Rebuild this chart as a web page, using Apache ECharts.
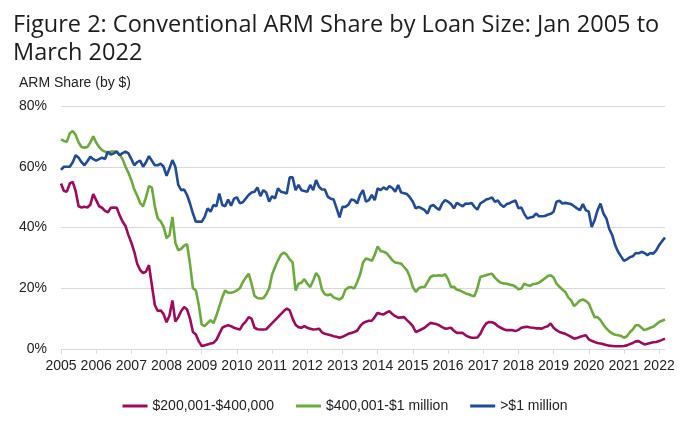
<!DOCTYPE html>
<html>
<head>
<meta charset="utf-8">
<script src="https://cdn.jsdelivr.net/npm/echarts@6/dist/echarts.min.js"></script>
<style>
  html, body { margin: 0; padding: 0; background: #fff; }
  #chart { width: 690px; height: 437px; }
</style>
</head>
<body>
<div id="chart"></div>
<script>
// monthly, Jan 2005 .. Mar 2022 (ARM share by $, %)
var years = ['2005','2006','2007','2008','2009','2010','2011','2012','2013','2014','2015','2016','2017','2018','2019','2020','2021','2022'];
var yTicks = ['0%', '20%', '40%', '60%', '80%'];

var share200to400k = [
  54.5, 52, 51.8, 54.5, 55, 52, 47, 46.6, 46.8, 46.6, 47.5, 51,
  49, 47, 46.5, 45.5, 45, 46.5, 46.6, 46.5, 44, 42, 40.5, 37.5,
  35, 32, 28, 26, 25, 25.5, 27.6, 21, 14.5, 12.5, 12.7, 11.5,
  8.8, 11, 16, 9, 10.5, 12.5, 13.8, 13, 10, 5.6, 4.8, 2.5,
  1, 1.2, 1.5, 1.8, 2, 3, 5, 7, 7.5, 7.8, 7.5, 7,
  6.7, 6.4, 8, 9, 10.5, 10, 7, 6.5, 6.4, 6.4, 6.5, 7.5,
  8.5, 9.5, 10.5, 11.5, 12.5, 13.3, 12.7, 10, 8, 7.2, 7, 7.5,
  7, 6.7, 6.4, 6.5, 6.7, 5.5, 5, 4.8, 4.5, 4.2, 4, 3.7,
  4, 4.5, 5, 5.3, 5.6, 6, 7.5, 8.5, 9, 9.3, 9.3, 10.5,
  11.9, 11.5, 11.4, 12, 12.5, 11.5, 10.8, 10.3, 10.4, 10.5, 9.5, 8.6,
  7.5, 5.6, 6, 6.5, 7, 7.8, 8.6, 8.4, 8.2, 7.8, 7.2, 6.7,
  6.8, 7, 6, 5.3, 5.3, 5.3, 4.5, 4, 3.7, 3.7, 3.8, 5,
  7, 8.4, 8.9, 8.8, 8.4, 7.5, 7, 6.5, 6.2, 6.2, 6.2, 5.9,
  6.3, 7, 7.2, 7.3, 7.1, 7, 6.8, 6.8, 6.7, 7.2, 7.5, 8.4,
  7, 6.2, 5.6, 5.3, 5, 4.5, 4, 3.4, 3.6, 4, 4.3, 4.5,
  3.2, 2.7, 2.3, 2, 1.8, 1.6, 1.3, 1.1, 1, 0.9, 0.9, 0.9,
  1, 1.2, 1.6, 2, 2.5, 2.6, 2, 1.5, 1.7, 2, 2.2, 2.3,
  2.6, 3, 3.4
];

var share400kto1m = [
  69, 68.5, 68.2, 71, 71.8, 70.5, 68, 66.5, 66.3, 66.5, 68, 70,
  68, 66.5, 65.5, 65, 64.4, 65, 65, 65, 64, 62.5, 60, 58,
  55.6, 52.5, 50.5, 48, 47, 50, 53.6, 53.2, 47, 43, 42, 40.2,
  36.5, 37.5, 43.5, 35, 32.5, 33, 34, 34.5, 28, 20, 19.3, 14.5,
  8, 7.5, 8.5, 9.5, 8.5, 11, 14, 17, 19.3, 18.5, 18.5, 18.8,
  19.3, 20, 22, 23.5, 24.8, 21.5, 17.5, 16.8, 16.6, 16.7, 18, 20,
  24.5, 27, 29.2, 31, 31.8, 31, 29.5, 28.5, 19.3, 21.5, 21.8, 23,
  21.5, 20.4, 22.5, 25, 23.7, 19.5, 18, 17.7, 18, 17, 16.6, 16.3,
  17, 19.5, 20.2, 20.4, 19.9, 22, 24.5, 28.5, 29.8, 29.5, 29, 31,
  33.8, 32.3, 32, 31.6, 30.5, 29.2, 28.5, 28.3, 28.1, 27, 25.9, 23.7,
  20.4, 18.8, 20, 20.4, 20.4, 22, 23.7, 24.2, 24.1, 24.3, 24.1, 24.6,
  23, 20.4, 20.5, 19.5, 19.3, 18.8, 18.3, 18, 17.6, 17.4, 20, 23.7,
  24, 24.3, 24.6, 24.8, 23.5, 22.5, 21.8, 21.6, 21.5, 21.2, 21, 20.5,
  19.7, 19.9, 21.5, 21, 20.8, 21.4, 21.5, 21.8, 22.5, 23.2, 24, 24.3,
  23.5, 21.5, 20.5, 19.6, 18.8, 17, 16, 14.1, 15, 16, 16.3, 15.8,
  15, 12.7, 10.5, 10.5, 9.5, 8, 6.8, 5.8, 5.1, 4.7, 4.5, 4.3,
  3.7, 4.2, 5.5, 6.4, 7.8, 7.8, 7, 6.2, 6.6, 7, 7.3, 8.1,
  8.9, 9.3, 9.7
];

var shareOver1m = [
  59, 60, 60, 60, 61.5, 63.8, 63, 61.5, 60.5, 61.8, 63.3, 62.5,
  62, 62.5, 63, 62.5, 65, 64, 64.4, 65, 63.8, 64.5, 65, 64.4,
  62.5, 60.5, 61.5, 62, 60, 61.5, 63.5, 62, 60.5, 60.5, 61, 60,
  57, 59.5, 62.2, 60, 54, 52.3, 52.5, 50.7, 47.9, 44.6, 41.9, 42,
  41.9, 43.5, 46.3, 45.2, 47.4, 47, 51.2, 47.4, 47, 49.2, 47.2, 49.5,
  49.9, 48, 48.3, 49.5, 50.7, 51.5, 51.8, 53.2, 50.3, 52.3, 51.5, 48.5,
  50.3, 49.6, 52.9, 51.8, 51.5, 51.2, 56.5, 56.5, 52.3, 54, 52.3, 52,
  51.8, 54, 52.3, 55.6, 53.4, 52.5, 52.5, 50.1, 49.5, 49.2, 46.3, 43.3,
  46.8, 46.8, 47.5, 49.2, 49, 47.9, 50.7, 52.3, 48.5, 49, 50.7, 49,
  52.9, 52.3, 53.2, 52.5, 53.6, 53, 51.8, 54, 51.5, 51.3, 51, 49.9,
  48.5, 46.3, 46.8, 46.3, 45.7, 44.6, 47, 47.4, 46.5, 45.8, 47.9, 49,
  48.5, 47.7, 46.3, 48.1, 47.5, 47, 47.9, 47.8, 48.1, 46.8, 45.9, 47.9,
  48.5, 49.2, 49.5, 49.9, 48.5, 48.9, 47.5, 46.8, 47.7, 48, 48.5, 48.9,
  46.3, 46.6, 44.5, 43, 43.3, 43.5, 44.6, 43.7, 43.7, 43.8, 44.2, 44.5,
  45.2, 48.5, 48.8, 47.9, 48.1, 47.9, 47.7, 47, 46.3, 45.7, 47.7, 45.7,
  45.2, 40.2, 42.4, 45.7, 47.9, 44.6, 43, 39.5, 37.5, 34.2, 32, 30.5,
  29, 29.5, 30.2, 30.5, 31.6, 31.5, 32, 31.6, 30.9, 31.6, 31.4, 32.5,
  34.2, 35.5, 36.7
];

var months = [];
for (var i = 0; i < share200to400k.length; i++) {
  months.push(years[Math.floor(i / 12)] + '-' + (i % 12 + 1));
}

var labelFont = "'Liberation Sans Narrow', 'Liberation Sans', sans-serif";
var chart = echarts.init(document.getElementById('chart'));

var option = {
  animation: false,
  backgroundColor: '#fff',
  title: [
    {
      text: 'Figure 2: Conventional ARM Share by Loan Size: Jan 2005 to\nMarch 2022',
      left: 8,
      top: 6,
      textStyle: {
        fontFamily: "'Open Sans', sans-serif",
        fontWeight: 'normal',
        fontSize: 23.5,
        lineHeight: 28,
        color: '#1d1d1f'
      }
    },
    {
      text: 'ARM Share (by $)',
      left: 14,
      top: 71,
      textStyle: {
        fontFamily: labelFont,
        fontWeight: 'normal',
        fontSize: 14,
        color: '#222'
      }
    }
  ],
  legend: {
    bottom: 19,
    left: 'center',
    icon: 'rect',
    itemWidth: 25,
    itemHeight: 3,
    itemGap: 22,
    textStyle: { fontFamily: labelFont, fontSize: 14, color: '#222' },
    data: ['$200,001-$400,000', '$400,001-$1 million', '>$1 million']
  },
  grid: { left: 61, right: 25, top: 106, height: 243 },
  xAxis: {
    type: 'category',
    data: months,
    boundaryGap: false,
    axisLine: { lineStyle: { color: '#d9d9d9' } },
    axisTick: {
      interval: function (idx) { return idx % 12 === 0; },
      length: 5,
      lineStyle: { color: '#d9d9d9' }
    },
    axisLabel: {
      interval: function (idx) { return idx % 12 === 0; },
      formatter: function (v) { return v.split('-')[0]; },
      fontFamily: labelFont,
      fontSize: 14,
      color: '#222',
      margin: 10
    }
  },
  yAxis: {
    type: 'value',
    min: 0,
    max: 80,
    interval: 20,
    axisLine: { show: false },
    axisTick: { show: false },
    splitLine: { lineStyle: { color: '#d9d9d9' } },
    axisLabel: {
      formatter: function (v) { return yTicks[v / 20]; },
      fontFamily: labelFont,
      fontSize: 14,
      color: '#222',
      margin: 14
    }
  },
  series: [
    {
      name: '$200,001-$400,000',
      type: 'line',
      data: share200to400k,
      symbol: 'none',
      lineStyle: { width: 2.6, color: '#9e0a5c' },
      itemStyle: { color: '#9e0a5c' }
    },
    {
      name: '$400,001-$1 million',
      type: 'line',
      data: share400kto1m,
      symbol: 'none',
      lineStyle: { width: 2.6, color: '#6bab3b' },
      itemStyle: { color: '#6bab3b' }
    },
    {
      name: '>$1 million',
      type: 'line',
      data: shareOver1m,
      symbol: 'none',
      lineStyle: { width: 2.6, color: '#1f4b99' },
      itemStyle: { color: '#1f4b99' }
    }
  ]
};

chart.setOption(option);
</script>
</body>
</html>
